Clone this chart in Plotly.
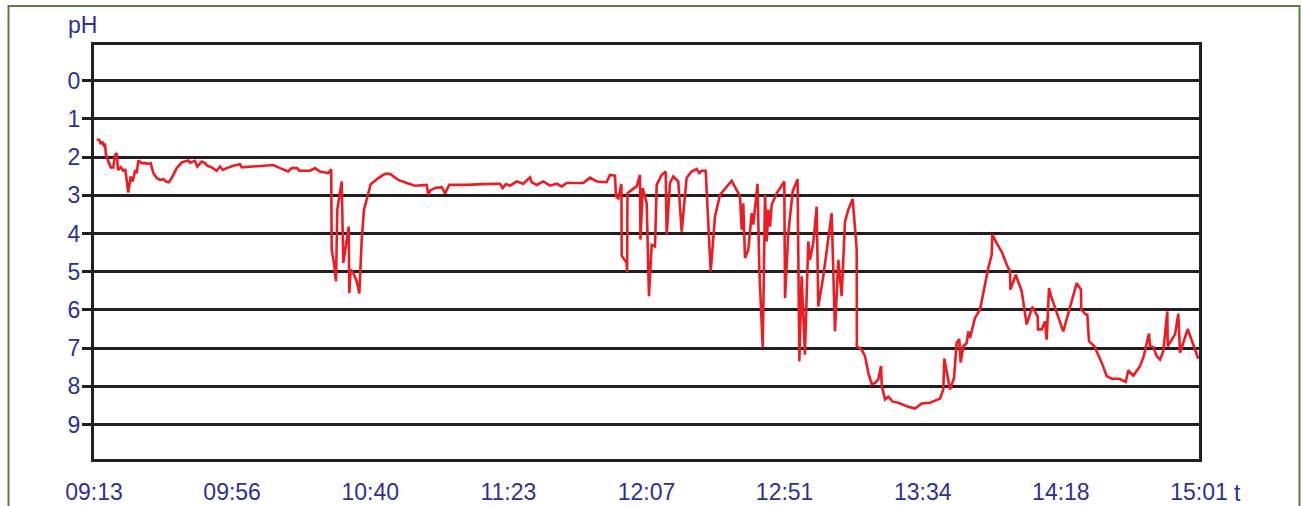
import plotly.graph_objects as go

# minutes after 09:13
minutes = [0.85, 1.67, 2.11, 2.74, 3.15, 3.46, 3.78, 4.50, 5.26, 6.08, 6.61, 7.15, 7.56, 8.41, 9.23, 9.86,
           10.80, 11.56, 12.19, 12.91, 13.45, 13.95, 15.02, 16.06, 17.10, 17.86, 18.68, 19.75, 20.79, 21.82,
           22.68, 23.53, 24.47, 26.04, 27.62, 29.70, 30.23, 31.81, 32.53, 33.92, 34.96, 35.68, 37.07, 38.64,
           39.68, 40.53, 41.79, 43.87, 45.98, 46.52, 49.13, 56.47, 58.58, 61.19, 62.26, 64.03, 64.66, 68.02,
           69.60, 71.17, 73.29, 73.79, 74.70, 74.86, 75.58, 76.21, 76.62, 77.47, 78.01, 78.51, 79.05, 79.77,
           80.21, 80.40, 80.84, 81.66, 82.73, 83.55, 84.31, 85.03, 86.07, 87.14, 89.53, 91.64, 93.22, 95.83,
           98.48, 101.09, 104.78, 105.28, 105.82, 107.39, 109.50, 110.54, 111.90, 117.38, 122.60, 127.86,
           128.71, 129.75, 131.01, 133.12, 135.20, 137.31, 137.84, 139.42, 141.50, 143.61, 145.72, 147.29,
           148.87, 154.10, 156.21, 158.32, 161.43, 162.50, 164.08, 164.39, 165.12, 166.10, 166.19, 167.74,
           167.90, 168.00, 169.34, 170.91, 171.95, 172.10, 172.80, 174.06, 174.78, 175.63, 176.67, 176.80,
           177.21, 178.75, 180.04, 180.36, 181.39, 182.43, 184.01, 185.08, 186.63, 188.21, 189.81, 190.62,
           191.38, 192.64, 193.46, 194.22, 195.57, 197.14, 200.83, 203.44, 203.98, 204.48, 205.02, 206.06,
           207.13, 207.64, 208.96, 209.53, 210.60, 211.33, 211.86, 212.37, 212.89, 213.43, 215.00, 216.89,
           217.40, 217.62, 218.66, 220.04, 221.58, 222.13, 222.85, 223.89, 224.95, 225.48, 226.52, 227.60,
           228.10, 229.68, 232.32, 233.36, 234.40, 235.47, 236.51, 237.55, 238.94, 240.20, 240.25, 241.77,
           242.81, 243.85, 244.92, 245.96, 247.00, 247.85, 248.10, 249.11, 250.15, 251.53, 253.30, 255.94,
           258.56, 260.67, 263.28, 266.43, 267.47, 267.78, 269.58, 270.84, 271.69, 272.50, 272.95, 273.77,
           274.84, 275.34, 275.88, 277.45, 279.03, 280.38, 281.64, 282.71, 282.90, 284.29, 286.05, 287.44,
           288.48, 288.60, 290.27, 292.16, 293.73, 295.50, 297.20, 297.30, 298.46, 299.50, 300.03, 300.76,
           301.39, 305.26, 309.48, 310.84, 310.90, 312.32, 312.82, 313.36, 315.03, 317.36, 318.93, 320.51,
           322.81, 324.92, 325.74, 327.31, 329.42, 330.46, 332.25, 332.57, 333.61, 334.68, 335.72, 336.76,
           338.02, 338.14, 340.44, 341.48, 342.02, 344.44, 347.78]

ph = [1.54, 1.55, 1.66, 1.60, 1.73, 1.64, 1.95, 2.12, 2.27, 2.27, 1.95, 1.90, 2.34, 2.27, 2.36, 2.32,
      2.93, 2.51, 2.64, 2.38, 2.42, 2.09, 2.16, 2.16, 2.18, 2.16, 2.42, 2.55, 2.60, 2.58,
      2.64, 2.66, 2.55, 2.29, 2.14, 2.09, 2.15, 2.10, 2.25, 2.12, 2.16, 2.23, 2.27, 2.36,
      2.25, 2.34, 2.29, 2.23, 2.19, 2.27, 2.25, 2.21, 2.29, 2.38, 2.29, 2.29, 2.36, 2.36,
      2.29, 2.38, 2.41, 2.42, 2.32, 4.43, 4.77, 5.25, 3.38, 2.95, 2.64, 4.77, 4.43, 4.08,
      3.82, 5.56, 4.95, 5.03, 5.25, 5.57, 4.16, 3.38, 3.03, 2.71, 2.55, 2.44, 2.44, 2.60,
      2.68, 2.75, 2.73, 2.99, 2.88, 2.81, 2.79, 2.95, 2.73, 2.73, 2.71, 2.70,
      2.81, 2.71, 2.75, 2.64, 2.70, 2.53, 2.66, 2.73, 2.64, 2.75, 2.70, 2.77,
      2.68, 2.68, 2.54, 2.64, 2.66, 2.47, 2.49, 3.03, 3.08, 2.71, 4.58, 4.77,
      5.01, 2.95, 2.86, 2.77, 2.47, 4.16, 2.81, 3.21, 5.64, 4.30, 4.34, 3.69,
      2.73, 2.47, 2.38, 4.03, 2.68, 2.51, 2.64, 3.95, 2.55, 2.38, 2.31, 2.42,
      2.36, 2.36, 3.56, 4.99, 3.56, 2.99, 2.62, 3.03, 3.90, 3.21, 4.64, 4.43,
      3.47, 3.77, 2.70, 4.95, 6.98, 2.99, 4.21, 3.38, 3.82, 3.25, 2.95, 2.68,
      2.64, 5.69, 3.99, 2.90, 2.58, 7.34, 5.12, 7.17, 4.21, 4.69, 4.25, 3.30,
      5.91, 5.12, 3.47, 6.56, 4.69, 5.64, 3.69, 3.38, 3.10, 4.43, 6.95, 7.04,
      7.21, 7.64, 7.95, 7.91, 7.82, 7.47, 7.99, 8.34, 8.27, 8.40, 8.43, 8.52,
      8.58, 8.45, 8.43, 8.32, 8.08, 7.27, 8.08, 7.78, 6.86, 6.76, 7.38, 6.95,
      6.86, 6.56, 6.73, 6.21, 5.99, 5.43, 4.90, 4.56, 4.03, 4.25, 4.51, 4.82,
      4.99, 5.47, 5.08, 5.51, 6.38, 5.92, 6.17, 6.51, 6.51, 6.30, 6.78, 5.43,
      5.64, 6.56, 5.30, 5.47, 5.99, 6.12, 6.12, 6.82, 6.95, 7.38, 7.73, 7.80,
      7.80, 7.88, 7.58, 7.72, 7.47, 7.25, 6.62, 6.95, 6.97, 7.21, 7.30, 7.08,
      6.04, 6.95, 6.64, 6.10, 7.12, 6.50, 7.28]

time_labels = ["09:13", "09:56", "10:40", "11:23", "12:07", "12:51", "13:34", "14:18", "15:01"]
time_ticks = [i * 43.5 for i in range(len(time_labels))]
ph_ticks = list(range(0, 10))

BLUE = "#2e3192"
FONT = "Liberation Sans, Arial, sans-serif"
FS = 23

fig = go.Figure()
fig.add_trace(go.Scatter(x=minutes, y=ph, mode="lines",
                         line=dict(color="#ed1c24", width=2.6), hoverinfo="skip",
                         showlegend=False))

W, H = 1301, 506
L, R, T, B = 94, 1199, 45, 459

fig.update_layout(
    template="none",
    width=W, height=H,
    margin=dict(l=L, r=W - R, t=T, b=H - B, pad=0, autoexpand=False),
    paper_bgcolor="white", plot_bgcolor="white",
    showlegend=False,
    font=dict(family=FONT, size=FS, color=BLUE),
)
fig.update_xaxes(range=[0, 348], tickvals=time_ticks, ticktext=time_labels, automargin=False,
                 showgrid=False, zeroline=False, showline=True, linecolor="#231f20",
                 linewidth=3, mirror=True, ticks="outside", ticklen=10,
                 tickcolor="rgba(0,0,0,0)", tickfont=dict(size=FS, color=BLUE, family=FONT))
fig.update_yaxes(range=[9.9, -0.93], tickvals=ph_ticks, showgrid=True, gridcolor="#231f20",
                 gridwidth=2.6, zeroline=False, showline=True, linecolor="#231f20", automargin=False,
                 linewidth=3, mirror=True, ticks="outside", ticklen=9, tickwidth=2.5,
                 ticklabelstandoff=-3,
                 tickcolor="#231f20", tickfont=dict(size=FS, color=BLUE, family=FONT))

def px_x(p):
    return (p - L) / (R - L)

def px_y(p):
    return (B - p) / (B - T)

# outer green frame
fig.add_shape(type="rect", xref="paper", yref="paper",
              x0=px_x(8.5), x1=px_x(1299.5), y0=px_y(530), y1=px_y(6),
              line=dict(color="#5e7d3c", width=2), fillcolor="rgba(0,0,0,0)", layer="below")

fig.add_annotation(text="pH", xref="paper", yref="paper", x=px_x(82), y=px_y(25),
                   showarrow=False, font=dict(size=FS, color=BLUE, family=FONT),
                   xanchor="center", yanchor="middle")
fig.add_annotation(text="t", xref="paper", yref="paper", x=px_x(1237), y=px_y(493),
                   showarrow=False, font=dict(size=FS, color=BLUE, family=FONT),
                   xanchor="center", yanchor="middle")

fig.write_html("out.html", config={"displayModeBar": False},
               post_script="document.body.style.margin='0';document.body.style.overflow='hidden';")
